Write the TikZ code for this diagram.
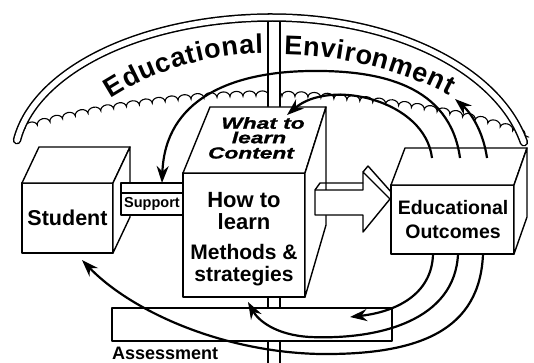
\documentclass[tikz,border=0pt]{standalone}
\usepackage{fontspec}
\setmainfont{Liberation Sans}
\newfontfamily\widefont[FakeStretch=1.42,FakeBold=1.2]{Liberation Sans}
\usetikzlibrary{arrows.meta,decorations.pathmorphing,decorations.text}
\newcommand\archfont{\bfseries\fontsize{27}{27}\selectfont}
\begin{document}
\begin{tikzpicture}[x=1pt,y=-1pt,
  boxline/.style={draw, line width=1.4pt, fill=white, line join=round},
  openline/.style={draw, line width=1.4pt, line join=round},
  face/.style={boxline, inner sep=0pt, outer sep=0pt},
  lbl/.style={inner sep=0pt, align=center},
  wt/.style={inner sep=0pt, font=\widefont\bfseries\itshape\fontsize{16}{16}\selectfont},
  flow/.style={line width=2.2pt, -{Stealth[length=17pt,width=12pt]}}]
\useasboundingbox (0,0) rectangle (534,363);

% cloud line
\draw[line width=1.1pt, decorate, decoration={bumps, segment length=26pt, amplitude=5pt}]
  (25,129) .. controls (100,106) and (200,95) .. (272,96)
           .. controls (360,97) and (470,112) .. (528,137);

% pole
\fill[white] (268,15) rectangle (280,363);
\draw[line width=1.3pt] (268,15) -- (268,363) (280,15) -- (280,363);

% arch band
\draw[line width=1.5pt, double=white, double distance=5.5pt, line cap=round]
  plot[domain=172:90, samples=60] ({272+257.5*cos(\x)}, {160-142.5*sin(\x)})
  -- plot[domain=90:12, samples=60] ({272+257.5*cos(\x)}, {175-157.5*sin(\x)});

% arch text
\path[decorate, decoration={text along path, text align={fit to path}, text={|\archfont|Educational}}]
  plot[domain=111:263, samples=40] (\x, {300-247*sqrt(1-((\x-270)/275.6)^2)});
\path[decorate, decoration={text along path, text align={fit to path}, text={|\archfont|Environment}}]
  plot[domain=284:449, samples=40] (\x, {300-245*sqrt(1-((\x-280)/308)^2)});

% assessment bar
\node[face, minimum width=280pt, minimum height=33pt] (assess) at (252,324.5) {};
\node[lbl, anchor=west, font=\bfseries\fontsize{18}{18}\selectfont] (asslab) at (112,353) {Assessment};

% student box
\node[face, minimum width=91pt, minimum height=70pt, font=\bfseries\fontsize{21.5}{21}\selectfont] (stud) at (67.5,218) {Student};
\draw[boxline] (stud.north west) -- ++(17,-36) -- ++(91,0) -- (stud.north east) -- cycle;
\draw[boxline] (stud.north east) -- ++(17,-36) -- ++(0,70) -- (stud.south east) -- cycle;

% support bar
\node[face, minimum width=62pt, minimum height=22pt, font=\bfseries\fontsize{14.5}{14}\selectfont] (sup) at (152,204) {Support};
\draw[boxline] (sup.north west) -- ++(0,-10) -- ++(62,0) -- (sup.north east) -- cycle;

% central box
\node[face, minimum width=122pt, minimum height=124pt] (how) at (244,235) {};
\draw[boxline] (how.north west) -- ++(27,-66) -- ++(116,0) -- (how.north east) -- cycle;
\draw[boxline] (how.north east) -- ++(21,-66) -- ++(0,118) -- (how.south east) -- cycle;
\node[wt] (wt1) at (263,123) {What to};
\node[wt] (wt2) at (259,137.5) {learn};
\node[wt] (wt3) at (251,153) {Content};
\node[lbl, font=\bfseries\fontsize{22}{22}\selectfont] (howtxt) at (244,211) {How to\\learn};
\node[lbl, font=\bfseries\fontsize{21}{22}\selectfont] (methtxt) at (244,265) {Methods \&\\strategies};

% block arrow
\draw[boxline] (315,190) -- (363,190) -- (363,172) -- (390,199) -- (363,232) -- (363,215) -- (315,215) -- cycle;
\draw[openline] (315,190) -- (320,183) -- (363,183);
\draw[openline] (363,172) -- (368,166) -- (392,193);

% outcomes box
\node[face, minimum width=123pt, minimum height=69pt] (out) at (452.5,219.5) {};
\draw[boxline] (out.north west) -- ++(14,-37) -- ++(122,0) -- (out.north east) -- cycle;
\draw[boxline] (out.north east) -- ++(13,-37) -- ++(0,69) -- (out.south east) -- cycle;
\node[lbl, font=\bfseries\fontsize{19.5}{24}\selectfont] (outtxt) at (453,220) {Educational\\Outcomes};

% connector end points
\coordinate (a0) at (432,158); \coordinate (a1) at (287,115);
\coordinate (b0) at (460,158); \coordinate (bm) at (310,71); \coordinate (b1) at (162,183);
\coordinate (c0) at (487,158); \coordinate (c1) at (455,99);
\coordinate (d0) at (433,254); \coordinate (d1) at (350,317);
\coordinate (e0) at (458,254); \coordinate (em) at (310,337); \coordinate (e1) at (248,302);
\coordinate (f0) at (483,254); \coordinate (fm) at (320,354); \coordinate (f1) at (82,260);

% feedback curves
\draw[flow] (a0) .. controls (425,100) and (330,78) .. (a1);
\draw[flow] (b0) .. controls (450,85) and (380,70) .. (bm) .. controls (230,72) and (165,100) .. (b1);
\draw[flow] (c0) .. controls (483,130) and (470,112) .. (c1);
\draw[flow] (d0) .. controls (432,295) and (395,312) .. (d1);
\draw[flow] (e0) .. controls (455,320) and (380,340) .. (em) .. controls (275,335) and (258,320) .. (e1);
\draw[flow] (f0) .. controls (480,330) and (420,355) .. (fm) .. controls (220,352) and (130,310) .. (f1);
\end{tikzpicture}
\end{document}
